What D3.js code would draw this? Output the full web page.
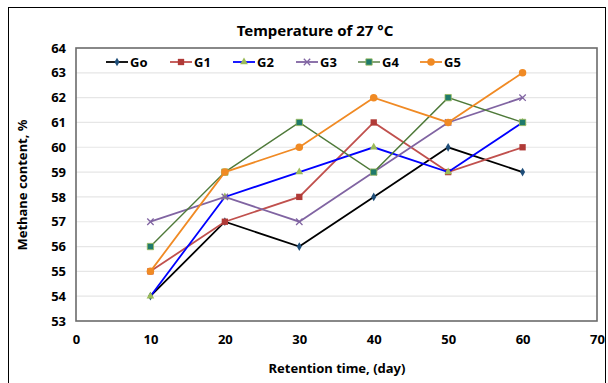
<!DOCTYPE html>
<html>
<head>
<meta charset="utf-8">
<script src="https://cdn.jsdelivr.net/npm/d3@7"></script>
<style>
  body { margin: 0; background: #fff; }
  svg text { font-family: "Noto Sans", "DejaVu Sans", sans-serif; font-weight: bold; }
</style>
</head>
<body>
<svg id="chart" width="608" height="383"></svg>
<script>
const days = [10, 20, 30, 40, 50, 60]
const go = [54, 57, 56, 58, 60, 59]
const g1 = [55, 57, 58, 61, 59, 60]
const g2 = [54, 58, 59, 60, 59, 61]
const g3 = [57, 58, 57, 59, 61, 62]
const g4 = [56, 59, 61, 59, 62, 61]
const g5 = [55, 59, 60, 62, 61, 63]
const xTicks = [0, 10, 20, 30, 40, 50, 60, 70]
const yTicks = [53, 54, 55, 56, 57, 58, 59, 60, 61, 62, 63, 64]

const series = [
  { name: 'Go', values: go, line: '#000000', mark: '#1f4e79', shape: 'diamond', width: 1.8 },
  { name: 'G1', values: g1, line: '#c0504d', mark: '#b03a37', shape: 'square', width: 1.8 },
  { name: 'G2', values: g2, line: '#0000ff', mark: '#9bbb59', shape: 'triangle', width: 1.8 },
  { name: 'G3', values: g3, line: '#8064a2', mark: '#8064a2', shape: 'x', width: 1.8 },
  { name: 'G4', values: g4, line: '#4f7a3a', mark: '#1f7a6b', shape: 'square', width: 1.4 },
  { name: 'G5', values: g5, line: '#f08a24', mark: '#f08a24', shape: 'circle', width: 1.8 }
]

const svg = d3.select('#chart')
const m = { left: 76, top: 48, right: 597, bottom: 321 }

const x = d3.scaleLinear().domain([0, 70]).range([m.left, m.right])
const y = d3.scaleLinear().domain([53, 64]).range([m.bottom, m.top])

// outer frame
svg.append('rect').attr('x', 8.5).attr('y', 7.5).attr('width', 597).attr('height', 380)
  .attr('fill', 'none').attr('stroke', '#000').attr('stroke-width', 1)

// grid
svg.append('g').selectAll('line').data(yTicks.slice(1, -1)).join('line')
  .attr('x1', m.left).attr('x2', m.right)
  .attr('y1', d => y(d)).attr('y2', d => y(d))
  .attr('stroke', '#e6e6e6').attr('stroke-width', 1.2)

// plot border
svg.append('rect').attr('x', m.left).attr('y', m.top)
  .attr('width', m.right - m.left).attr('height', m.bottom - m.top)
  .attr('fill', 'none').attr('stroke', '#6b6b6b').attr('stroke-width', 1.6)

// axes labels
const xAxis = d3.axisBottom(x).tickValues(xTicks).tickSize(0).tickPadding(14)
svg.append('g').attr('transform', `translate(0,${m.bottom})`).call(xAxis)
  .call(g => g.select('.domain').remove())
  .selectAll('text').attr('font-size', 13).attr('fill', '#000')
  .style('font-family', '"Noto Sans", sans-serif').style('font-weight', 'bold')

const yAxis = d3.axisLeft(y).tickValues(yTicks).tickSize(0).tickPadding(10)
svg.append('g').attr('transform', `translate(${m.left},0)`).call(yAxis)
  .call(g => g.select('.domain').remove())
  .selectAll('text').attr('font-size', 13).attr('fill', '#000')
  .style('font-family', '"Noto Sans", sans-serif').style('font-weight', 'bold')

// title and axis titles
svg.append('text').attr('x', 315).attr('y', 36).attr('text-anchor', 'middle')
  .attr('font-size', 15).text('Temperature of 27 °C')
svg.append('text').attr('x', 337).attr('y', 373).attr('text-anchor', 'middle')
  .attr('font-size', 13).text('Retention time, (day)')
svg.append('text').attr('transform', 'translate(27,185) rotate(-90)').attr('text-anchor', 'middle')
  .attr('font-size', 13).text('Methane content, %')

function marker(g, s, cx, cy, size) {
  if (s.shape === 'x') {
    const r = size * 0.8
    g.append('path').attr('d', `M${cx - r},${cy - r}L${cx + r},${cy + r}M${cx - r},${cy + r}L${cx + r},${cy - r}`)
      .attr('stroke', s.mark).attr('stroke-width', 1.3)
    return
  }
  const sym = { diamond: d3.symbolDiamond, square: d3.symbolSquare, triangle: d3.symbolTriangle, circle: d3.symbolCircle }[s.shape]
  const area = { diamond: 22, square: 40, triangle: 26, circle: 44 }[s.shape] * (size / 4)
  g.append('path').attr('d', d3.symbol(sym, area)())
    .attr('transform', `translate(${cx},${cy})`)
    .attr('fill', s.mark)
    .attr('stroke', s.shape === 'square' && s.name === 'G4' ? '#9bbb59' : 'none')
    .attr('stroke-width', 0.8)
}

const line = d3.line().x((d, i) => x(days[i])).y(d => y(d))

series.forEach(s => {
  const g = svg.append('g')
  g.append('path').datum(s.values).attr('d', line)
    .attr('fill', 'none').attr('stroke', s.line).attr('stroke-width', s.width)
  s.values.forEach((v, i) => marker(g, s, x(days[i]), y(v), 4))
})

// legend
const legendX = [106, 170, 233, 296, 358, 420]
series.forEach((s, i) => {
  const g = svg.append('g')
  const lx = legendX[i], ly = 62
  g.append('line').attr('x1', lx).attr('x2', lx + 22).attr('y1', ly).attr('y2', ly)
    .attr('stroke', s.line).attr('stroke-width', s.width)
  marker(g, s, lx + 11, ly, 4)
  g.append('text').attr('x', lx + 24).attr('y', ly + 5).attr('font-size', 13).text(s.name)
})
</script>
</body>
</html>
